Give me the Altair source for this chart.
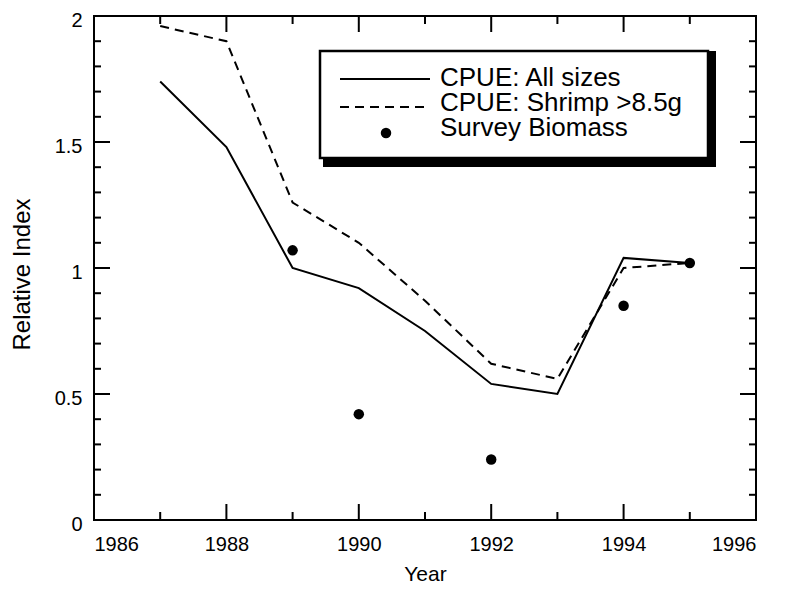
import altair as alt
import pandas as pd

# ---- data ----
years = [1987, 1988, 1989, 1990, 1991, 1992, 1993, 1994, 1995]
cpue_all = [1.74, 1.48, 1.00, 0.92, 0.75, 0.54, 0.50, 1.04, 1.02]
cpue_big = [1.96, 1.90, 1.26, 1.10, 0.87, 0.62, 0.56, 1.00, 1.02]
survey_years = [1989, 1990, 1992, 1994, 1995]
survey_vals = [1.07, 0.42, 0.24, 0.85, 1.02]

x_major = [1986, 1988, 1990, 1992, 1994, 1996]
x_minor = [1987, 1989, 1991, 1993, 1995]
y_major = [0, 0.5, 1, 1.5, 2]
y_minor = [0.1, 0.2, 0.3, 0.4, 0.6, 0.7, 0.8, 0.9, 1.1, 1.2, 1.3, 1.4, 1.6, 1.7, 1.8, 1.9]

legend_labels = ["CPUE: All sizes", "CPUE: Shrimp >8.5g", "Survey Biomass"]

W, H = 662, 504
FONT = "Liberation Sans"
TICK_COLOR = "black"

lines_df = pd.DataFrame({"Year": years, "all": cpue_all, "big": cpue_big})
survey_df = pd.DataFrame({"Year": survey_years, "Index": survey_vals})

xscale = alt.Scale(domain=[1986, 1996], nice=False, zero=False)
yscale = alt.Scale(domain=[0, 2], nice=False, zero=True)

xaxis = alt.Axis(values=x_major, format="d", ticks=False, domain=False, grid=False,
                 labelFontSize=20, labelFont=FONT, labelColor="black", labelPadding=14,
                 title="Year", titleFont=FONT, titleFontSize=21, titleFontWeight="normal",
                 titleColor="black", titlePadding=9)
yaxis = alt.Axis(values=y_major, format="~g", ticks=False, domain=False, grid=False,
                 labelFontSize=20, labelFont=FONT, labelColor="black", labelPadding=12,
                 labelOffset=4,
                 title="Relative Index", titleFont=FONT, titleFontSize=24,
                 titleFontWeight="normal", titleColor="black", titlePadding=20,
                 titleY=258)

base = alt.Chart(lines_df)

solid = base.mark_line(color="black", strokeWidth=2).encode(
    x=alt.X("Year:Q", scale=xscale, axis=xaxis),
    y=alt.Y("all:Q", scale=yscale, axis=yaxis),
)
dashed = base.mark_line(color="black", strokeWidth=2, strokeDash=[9, 6]).encode(
    x=alt.X("Year:Q", scale=xscale),
    y=alt.Y("big:Q", scale=yscale),
)
points = alt.Chart(survey_df).mark_point(filled=True, color="black", size=110, opacity=1).encode(
    x=alt.X("Year:Q", scale=xscale),
    y=alt.Y("Index:Q", scale=yscale),
)

# inward ticks on all four sides
def xticks(vals, length):
    df = pd.DataFrame({"Year": vals})
    b = alt.Chart(df).mark_rule(color=TICK_COLOR, strokeWidth=2)
    bottom = b.encode(x=alt.X("Year:Q", scale=xscale), y=alt.value(H - length), y2=alt.value(H))
    top = b.encode(x=alt.X("Year:Q", scale=xscale), y=alt.value(0), y2=alt.value(length))
    return [bottom, top]

def yticks(vals, length):
    df = pd.DataFrame({"all": vals})
    b = alt.Chart(df).mark_rule(color=TICK_COLOR, strokeWidth=2)
    left = b.encode(y=alt.Y("all:Q", scale=yscale), x=alt.value(0), x2=alt.value(length))
    right = b.encode(y=alt.Y("all:Q", scale=yscale), x=alt.value(W - length), x2=alt.value(W))
    return [left, right]

ticks = xticks(x_major, 16) + xticks(x_minor, 8) + yticks(y_major, 16) + yticks(y_minor, 7)

# manual legend box with drop shadow
one = pd.DataFrame({"k": [0]})
shadow = alt.Chart(one).mark_rect(color="black").encode(
    x=alt.value(229), x2=alt.value(622), y=alt.value(35), y2=alt.value(151))
box = alt.Chart(one).mark_rect(fill="white", stroke="black", strokeWidth=2.5).encode(
    x=alt.value(226), x2=alt.value(614), y=alt.value(35), y2=alt.value(142))
leg_solid = alt.Chart(one).mark_rule(color="black", strokeWidth=2).encode(
    x=alt.value(246), x2=alt.value(336), y=alt.value(63))
leg_dash = alt.Chart(one).mark_rule(color="black", strokeWidth=2, strokeDash=[9, 6]).encode(
    x=alt.value(246), x2=alt.value(336), y=alt.value(91))
leg_dot = alt.Chart(one).mark_point(filled=True, color="black", size=110, opacity=1).encode(
    x=alt.value(292), y=alt.value(117))
leg_texts = []
for i, lab in enumerate(legend_labels):
    leg_texts.append(
        alt.Chart(one).mark_text(align="left", baseline="alphabetic", font=FONT,
                                 fontSize=26, color="black").encode(
            x=alt.value(346), y=alt.value(70 + i * 25), text=alt.value(lab))
    )

chart = alt.layer(
    solid, dashed, points, shadow, box, leg_solid, leg_dash, leg_dot, *leg_texts, *ticks
).properties(
    width=W, height=H,
    autosize=alt.AutoSizeParams(type="none"),
    padding={"left": 86, "top": 8, "right": 15, "bottom": 70},
    background="white",
).configure_view(stroke="black", strokeWidth=2)

chart.save("out.html", embed_options={"renderer": "svg", "actions": False})
